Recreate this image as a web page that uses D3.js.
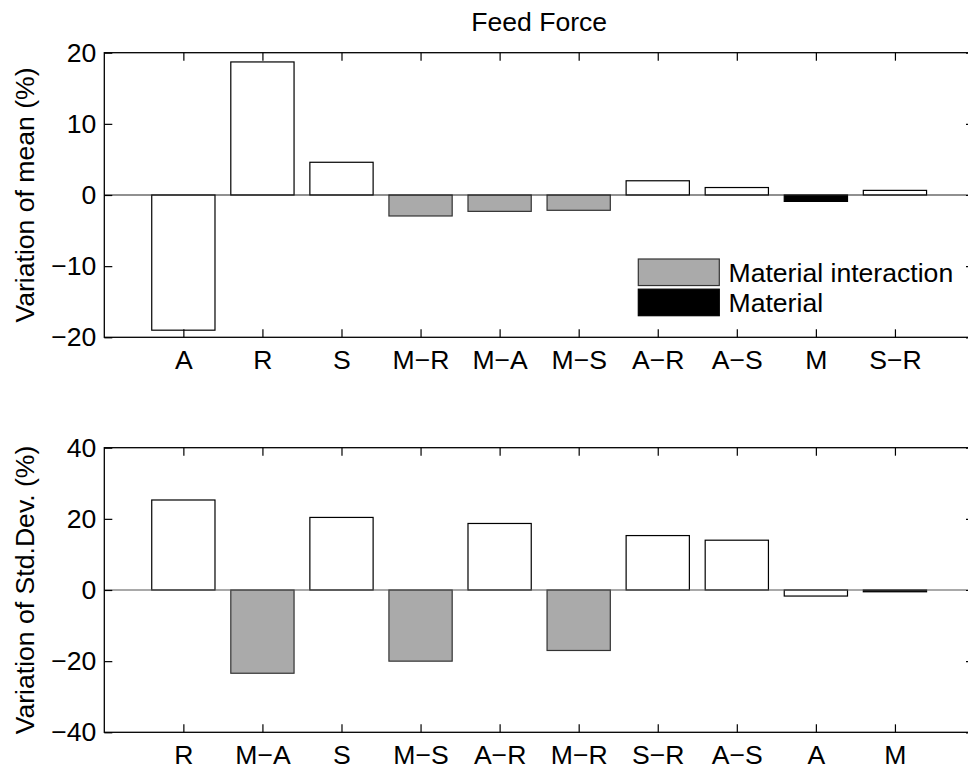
<!DOCTYPE html>
<html>
<head>
<meta charset="utf-8">
<script src="https://cdn.jsdelivr.net/npm/d3@7"></script>
<style>
  body { margin: 0; background: #fff; }
  svg text { font-family: "Liberation Sans", Arial, sans-serif; fill: #000; }
</style>
</head>
<body>
<svg id="chart" width="968" height="774"></svg>
<script>
// ---- data ----
const title = "Feed Force";
const meanCategories = ["A", "R", "S", "M\u2212R", "M\u2212A", "M\u2212S", "A\u2212R", "A\u2212S", "M", "S\u2212R"];
const meanValues     = [-19.0, 18.7, 4.6, -2.95, -2.3, -2.15, 2.0, 1.05, -0.9, 0.65];
const meanTypes      = ["main", "main", "main", "inter", "inter", "inter", "main", "main", "mat", "main"];
const meanTicks      = [-20, -10, 0, 10, 20];

const sdCategories = ["R", "M\u2212A", "S", "M\u2212S", "A\u2212R", "M\u2212R", "S\u2212R", "A\u2212S", "A", "M"];
const sdValues     = [25.3, -23.4, 20.4, -20.0, 18.7, -17.0, 15.3, 14.0, -1.7, -0.5];
const sdTypes      = ["main", "inter", "main", "inter", "main", "inter", "main", "main", "main", "mat"];
const sdTicks      = [-40, -20, 0, 20, 40];

const legendLabels = ["Material interaction", "Material"];
const legendTypes  = ["inter", "mat"];

// ---- styles ----
const fills   = { main: "#ffffff", inter: "#aaaaaa", mat: "#000000" };
const strokes = { main: "#000000", inter: "#333333", mat: "#000000" };
const FONT = 26.6;

const svg = d3.select("#chart");
const left = 104.3, right = 974;

function fmt(v) { return v < 0 ? "\u2212" + Math.abs(v) : String(v); }

function panel(cfg) {
  const { top, bottom, cats, vals, types, ticks, ylabel, zeroColor } = cfg;
  const n = cats.length;
  const x = d3.scaleLinear().domain([0, n + 1]).range([left, right]);
  const y = d3.scaleLinear().domain([ticks[0], ticks[ticks.length - 1]]).range([bottom, top]);
  const bw = (x(1) - x(0)) * 0.8;
  const g = svg.append("g");

  g.selectAll("rect.bar").data(vals).join("rect")
    .attr("class", "bar")
    .attr("x", (d, i) => x(i + 1) - bw / 2)
    .attr("width", bw)
    .attr("y", d => y(Math.max(0, d)))
    .attr("height", d => Math.abs(y(d) - y(0)))
    .attr("fill", (d, i) => fills[types[i]])
    .attr("stroke", (d, i) => strokes[types[i]])
    .attr("stroke-width", 1.2);

  g.append("line")
    .attr("x1", left).attr("x2", right)
    .attr("y1", y(0)).attr("y2", y(0))
    .attr("stroke", zeroColor).attr("stroke-width", 1.2);

  const tl = 8;
  const xb = d3.axisBottom(x).tickValues(d3.range(1, n + 1)).tickSize(-tl).tickFormat((d) => cats[d - 1]).tickPadding(13);
  const xt = d3.axisTop(x).tickValues(d3.range(1, n + 1)).tickSize(-tl).tickFormat("");
  const yl = d3.axisLeft(y).tickValues(ticks).tickSize(-tl).tickFormat(fmt).tickPadding(8);
  const yr = d3.axisRight(y).tickValues(ticks).tickSize(-tl).tickFormat("");

  const axes = [
    g.append("g").attr("transform", `translate(0,${bottom})`).call(xb),
    g.append("g").attr("transform", `translate(0,${top})`).call(xt),
    g.append("g").attr("transform", `translate(${left},0)`).call(yl),
    g.append("g").attr("transform", `translate(${right},0)`).call(yr)
  ];
  axes.forEach(a => {
    a.select(".domain").remove();
    a.selectAll(".tick line").attr("stroke", "#000").attr("stroke-width", 1.2);
    a.selectAll(".tick text").style("font-size", FONT + "px").style("font-family", '"Liberation Sans", Arial, sans-serif').attr("fill", "#000");
  });
  axes[0].selectAll(".tick text").attr("dy", "0.71em");

  g.append("rect")
    .attr("x", left).attr("y", top)
    .attr("width", right - left).attr("height", bottom - top)
    .attr("fill", "none").attr("stroke", "#000").attr("stroke-width", 1.3);

  g.append("text")
    .attr("transform", `translate(25,${(top + bottom) / 2}) rotate(-90)`)
    .attr("text-anchor", "middle")
    .attr("dy", "0.35em")
    .style("font-size", FONT + "px")
    .text(ylabel);
  return { x, y };
}

panel({ top: 52.7, bottom: 337.3, cats: meanCategories, vals: meanValues, types: meanTypes,
        ticks: meanTicks, ylabel: "Variation of mean (%)", zeroColor: "#222" });
panel({ top: 447.7, bottom: 732.3, cats: sdCategories, vals: sdValues, types: sdTypes,
        ticks: sdTicks, ylabel: "Variation of Std.Dev. (%)", zeroColor: "#555" });

svg.append("text")
  .attr("x", (left + right) / 2).attr("y", 30.5)
  .attr("text-anchor", "middle")
  .style("font-size", FONT + "px")
  .text(title);

const lg = svg.append("g");
const ly = d3.scaleBand().domain(legendLabels).range([259, 315.7]).paddingInner(0.12);
lg.selectAll("rect").data(legendLabels).join("rect")
  .attr("x", 638.3).attr("width", 81)
  .attr("y", d => ly(d)).attr("height", ly.bandwidth())
  .attr("fill", (d, i) => fills[legendTypes[i]])
  .attr("stroke", (d, i) => strokes[legendTypes[i]])
  .attr("stroke-width", 1.2);
lg.selectAll("text").data(legendLabels).join("text")
  .attr("x", 728.5)
  .attr("y", d => ly(d) + ly.bandwidth() / 2)
  .attr("dy", "0.36em")
  .style("font-size", FONT + "px")
  .text(d => d);
</script>
</body>
</html>
